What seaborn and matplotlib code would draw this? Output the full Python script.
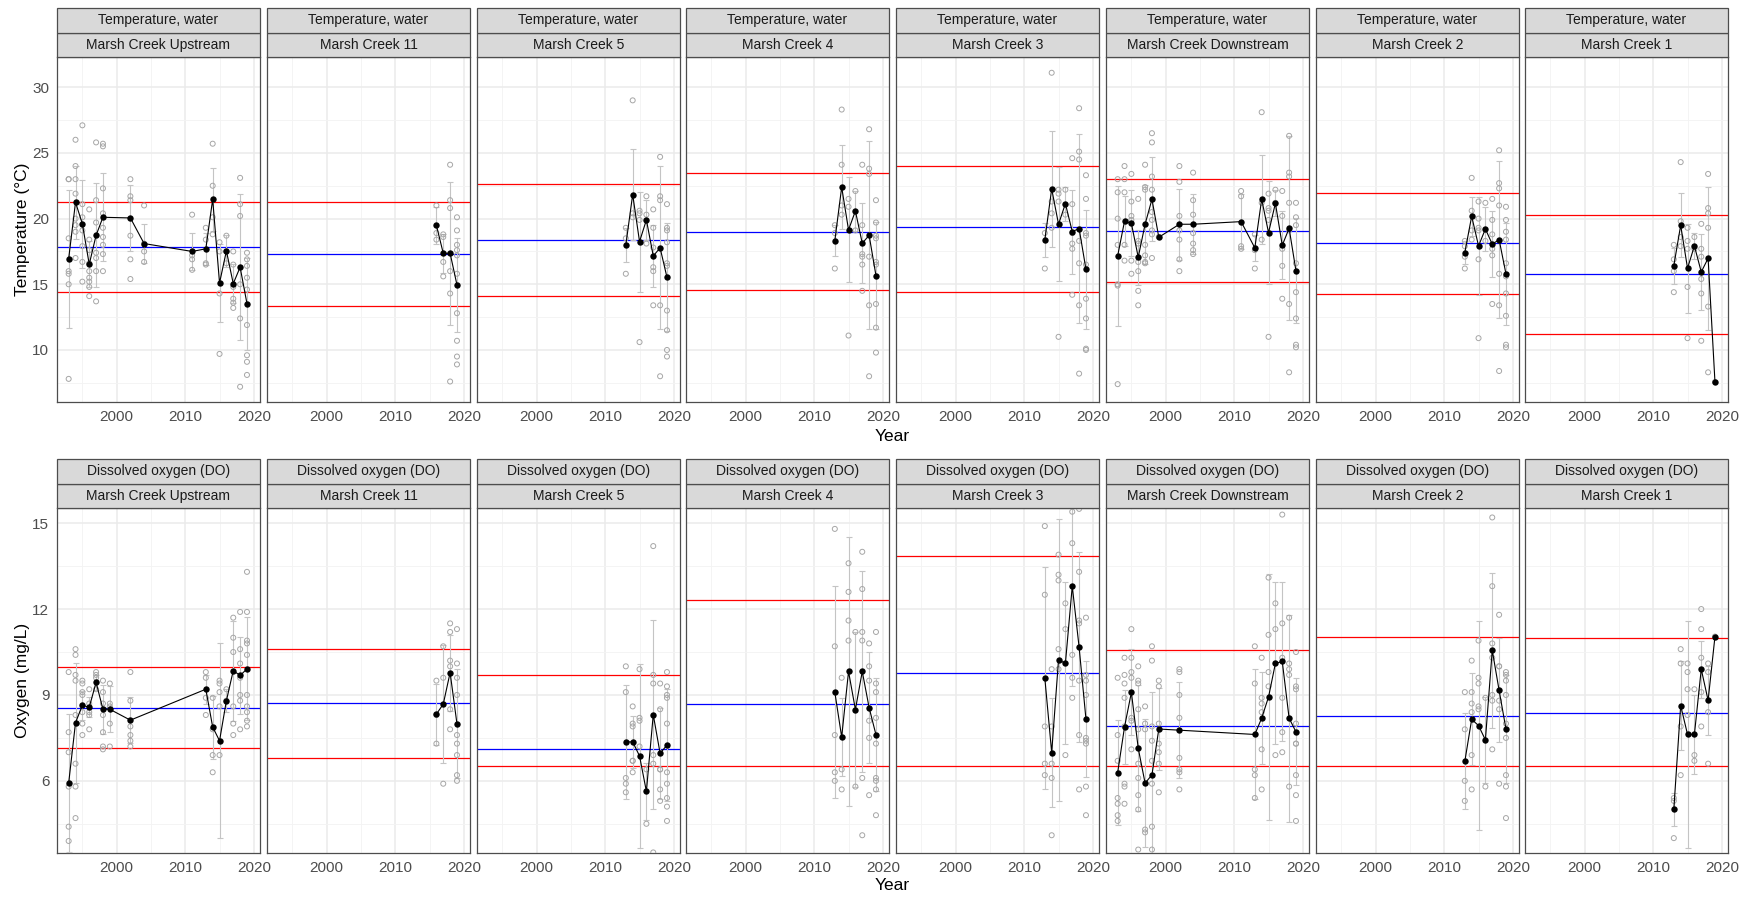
import numpy as np
import pandas as pd
import matplotlib
matplotlib.use("Agg")
import matplotlib.pyplot as plt
from matplotlib.patches import Rectangle
import seaborn as sns

sns.set_style("white")
plt.rcParams["font.family"] = ["Liberation Sans", "DejaVu Sans"]

# ---------------- data ----------------
SITES = ["Marsh Creek Upstream", "Marsh Creek 11", "Marsh Creek 5", "Marsh Creek 4",
         "Marsh Creek 3", "Marsh Creek Downstream", "Marsh Creek 2", "Marsh Creek 1"]
PARAM_TEMP = "Temperature, water"
PARAM_DO = "Dissolved oxygen (DO)"
YLABEL_TEMP = "Temperature (°C)"
YLABEL_DO = "Oxygen (mg/L)"
XLABEL = "Year"
X_TICKS = [2000, 2010, 2020]
TEMP_TICKS = [10, 15, 20, 25, 30]
DO_TICKS = [6, 9, 12, 15]

Y_RECENT = [2013, 2014, 2015, 2016, 2017, 2018, 2019]

# ---- Temperature: yearly mean, sd, raw samples ----
T_UP_YEARS = [1993, 1994, 1995, 1996, 1997, 1998, 2002, 2004, 2011, 2013, 2014, 2015, 2016, 2017, 2018, 2019]
T_UP_MEAN = [16.95, 21.24, 19.6, 16.52, 18.73, 20.1, 20.05, 18.1, 17.5, 17.7, 21.47, 15.1, 17.54, 15.05, 16.3, 13.53]
T_UP_SD = [5.25, 2.8, 3.35, 1.75, 3.95, 3.35, 2.5, 1.5, 1.4, 1.2, 2.4, 3.0, 1.2, 1.5, 5.55, 3.5]
T_UP_RAW = {1993: [23.0, 23.0, 18.5, 16.0, 15.8, 15.0, 7.8],
            1994: [26.0, 24.0, 23.0, 21.9, 20.0, 19.5, 19.0, 17.0],
            1995: [27.1, 21.1, 20.1, 19.1, 17.9, 16.7, 15.2],
            1996: [20.7, 18.4, 17.6, 16.6, 16.0, 15.5, 15.2, 14.8, 14.1],
            1997: [25.8, 21.4, 19.7, 17.4, 17.0, 16.0, 13.7],
            1998: [25.7, 25.5, 22.3, 20.4, 19.3, 18.6, 18.0, 17.3, 16.0],
            2002: [23.0, 21.7, 21.4, 18.7, 16.9, 15.4],
            2004: [21.0, 18.1, 17.5, 16.7],
            2011: [20.3, 17.2, 16.9, 16.1],
            2013: [19.3, 18.4, 16.6, 16.5],
            2014: [25.7, 22.5, 20.1, 18.8],
            2015: [18.2, 17.5, 14.3, 9.7],
            2016: [18.7, 17.5, 16.6],
            2017: [17.5, 16.5, 14.8, 13.9, 13.6, 13.2],
            2018: [23.1, 21.1, 20.2, 15.0, 12.4, 7.2],
            2019: [17.4, 16.9, 16.4, 15.5, 14.6, 11.9, 9.6, 9.1, 8.1]}

T_MC11_YEARS = [2016, 2017, 2018, 2019]
T_MC11_MEAN = [19.49, 17.36, 17.36, 14.95]
T_MC11_SD = [1.42, 1.47, 5.46, 3.6]
T_MC11_RAW = {2016: [21.0, 18.9, 18.4],
              2017: [18.8, 18.6, 16.7, 15.6],
              2018: [24.1, 21.4, 20.8, 16.0, 14.3, 7.6],
              2019: [20.1, 19.1, 18.0, 17.6, 17.2, 15.8, 12.8, 10.7, 9.5, 8.9]}

T_MC5_MEAN = [17.99, 21.83, 18.25, 19.9, 17.16, 17.77, 15.53]
T_MC5_SD = [1.33, 3.45, 3.8, 1.5, 2.35, 6.2, 4.1]
T_MC5_RAW = {2013: [19.3, 18.5, 15.8], 2014: [29.0, 20.4, 20.1], 2015: [20.6, 20.4, 19.9, 10.6],
             2016: [21.7, 20.3, 18.1], 2017: [20.7, 19.3, 17.8, 16.3, 16.0, 13.4],
             2018: [24.7, 21.7, 21.4, 13.4, 8.0],
             2019: [21.1, 19.3, 19.1, 18.2, 16.6, 16.4, 13.0, 11.5, 10.0, 9.5]}

T_MC4_MEAN = [18.32, 22.39, 19.14, 20.58, 18.12, 18.73, 15.66]
T_MC4_SD = [1.2, 3.2, 4.0, 1.5, 3.03, 7.17, 4.1]
T_MC4_RAW = {2013: [19.5, 18.9, 16.2], 2014: [28.3, 24.1, 21.0, 20.3], 2015: [21.5, 20.9, 11.1],
             2016: [22.1, 19.1], 2017: [24.1, 19.5, 17.3, 17.1, 16.5, 14.5],
             2018: [26.8, 23.8, 23.4, 17.1, 13.4, 8.0],
             2019: [21.4, 19.7, 18.7, 18.5, 16.7, 16.5, 13.5, 11.7, 9.8]}

T_MC3_MEAN = [18.38, 22.26, 19.57, 21.14, 19.01, 19.24, 16.14]
T_MC3_SD = [1.3, 4.4, 4.34, 1.3, 3.2, 7.2, 4.55]
T_MC3_RAW = {2013: [18.9, 16.2], 2014: [31.1, 21.3, 20.4, 19.3], 2015: [22.2, 21.9, 21.3, 11.0],
             2016: [22.2, 20.3], 2017: [24.6, 21.1, 18.9, 18.1, 17.7, 14.2],
             2018: [28.4, 25.1, 24.5, 18.3, 16.6, 13.4, 8.2],
             2019: [23.3, 21.5, 18.9, 18.7, 16.5, 13.9, 12.4, 10.1, 10.0]}

T_DOWN_YEARS = [1993, 1994, 1995, 1996, 1997, 1998, 1999, 2002, 2004, 2011, 2013, 2014, 2015, 2016, 2017, 2018, 2019]
T_DOWN_MEAN = [17.16, 19.8, 19.64, 17.06, 19.57, 21.47, 18.58, 19.57, 19.57, 19.77, 17.77, 21.47, 18.93, 21.17, 17.97, 19.26, 16.02]
T_DOWN_SD = [5.3, 1.9, 2.5, 2.1, 3.0, 3.2, np.nan, 2.7, 2.3, 2.1, 1.0, 3.4, 3.9, 1.0, 2.6, 7.0, 4.0]
T_DOWN_RAW = {1993: [23.0, 22.0, 20.0, 18.0, 15.0, 14.9, 7.4],
              1994: [24.0, 23.0, 22.0, 18.0, 16.8],
              1995: [23.4, 21.3, 20.2, 19.9, 16.8, 15.8],
              1996: [21.5, 18.3, 18.1, 16.7, 16.0, 14.5, 13.4],
              1997: [24.1, 22.4, 22.2, 18.0, 17.2, 16.7, 16.6],
              1998: [26.5, 25.8, 23.2, 22.2, 20.5, 19.9, 19.1, 18.8, 17.0],
              1999: [18.6],
              2002: [24.0, 22.8, 20.2, 19.1, 18.4, 16.9, 16.0],
              2004: [23.5, 21.4, 20.3, 18.9, 18.1, 17.6, 17.3],
              2011: [22.1, 21.7, 17.9, 17.7],
              2013: [18.8, 17.6, 16.2],
              2014: [28.1, 21.2, 18.4],
              2015: [21.9, 20.8, 20.6, 19.9, 11.0],
              2016: [22.2, 21.2],
              2017: [22.1, 20.2, 17.7, 16.4, 13.9],
              2018: [26.3, 23.5, 23.2, 21.2, 19.1, 13.5, 8.3],
              2019: [21.2, 20.1, 19.5, 16.6, 14.4, 12.4, 10.4, 10.2]}

T_MC2_MEAN = [17.41, 20.18, 17.92, 19.21, 18.05, 18.4, 15.79]
T_MC2_SD = [0.9, 1.5, 3.7, 1.7, 2.5, 6.0, 3.9]
T_MC2_RAW = {2013: [18.3, 17.9, 17.1, 16.2], 2014: [23.1, 20.6, 19.1, 18.4],
             2015: [21.3, 20.0, 19.3, 19.1, 16.9, 10.9], 2016: [21.2, 18.3],
             2017: [21.5, 19.9, 18.8, 17.7, 17.2, 13.5],
             2018: [25.2, 22.7, 22.3, 21.0, 15.8, 13.4, 8.4],
             2019: [20.9, 19.9, 19.0, 18.4, 16.6, 15.6, 14.3, 12.6, 10.4, 10.2]}

T_MC1_MEAN = [16.42, 19.49, 16.22, 17.92, 15.94, 16.98, 7.56]
T_MC1_SD = [1.37, 2.44, 3.4, 1.0, 2.88, 5.45, np.nan]
T_MC1_RAW = {2013: [18.0, 16.9, 16.0, 14.4], 2014: [24.3, 19.8, 18.6, 17.9],
             2015: [19.3, 18.3, 17.7, 14.8, 10.9], 2016: [18.6, 17.7],
             2017: [19.6, 17.7, 17.1, 15.4, 14.3, 10.7],
             2018: [23.4, 20.8, 20.4, 19.3, 13.3, 8.3], 2019: [7.56]}

# reference lines per site (lower red, blue average, upper red)
T_LOW = [14.39, 13.32, 14.09, 14.54, 14.39, 15.2, 14.26, 11.19]
T_AVG = [17.84, 17.28, 18.35, 19.01, 19.34, 19.09, 18.12, 15.79]
T_HIGH = [21.24, 21.24, 22.64, 23.45, 24.01, 23.0, 21.95, 20.3]

# ---- Dissolved oxygen ----
DO_UP_YEARS = [1993, 1994, 1995, 1996, 1997, 1998, 1999, 2002, 2013, 2014, 2015, 2016, 2017, 2018, 2019]
DO_UP_MEAN = [5.92, 8.03, 8.64, 8.57, 9.44, 8.5, 8.5, 8.12, 9.2, 7.88, 7.4, 8.8, 9.85, 9.68, 9.91]
DO_UP_SD = [2.4, 2.1, 0.5, 0.35, 0.25, 0.85, 0.8, 0.8, 0.5, 1.1, 3.4, 0.4, 1.75, 1.35, 1.8]
DO_UP_RAW = {1993: [9.8, 7.7, 7.0, 5.8, 4.4, 3.9],
             1994: [10.6, 10.4, 9.7, 9.5, 8.3, 6.6, 5.8, 4.7],
             1995: [9.5, 9.4, 9.1, 9.0, 8.4, 8.0, 7.6],
             1996: [9.2, 8.7, 8.4, 8.3, 7.8],
             1997: [9.8, 9.7, 9.6, 9.2],
             1998: [9.5, 9.1, 8.7, 8.3, 7.7, 7.2, 7.1],
             1999: [9.4, 8.7, 8.6, 8.0, 7.2],
             2002: [9.8, 8.8, 7.9, 7.6, 7.4, 7.2],
             2013: [9.8, 9.6, 8.9, 8.3],
             2014: [8.9, 7.8, 6.9, 6.3],
             2015: [9.5, 9.4, 9.1, 8.6, 6.9],
             2016: [9.2, 8.8],
             2017: [11.7, 11.0, 10.5, 8.6, 8.0, 7.6],
             2018: [11.9, 10.6, 10.1, 9.6, 9.0, 8.8, 7.8],
             2019: [13.3, 11.9, 10.9, 10.8, 10.4, 9.0, 8.6, 8.4, 8.1, 7.9]}

DO_MC11_YEARS = [2016, 2017, 2018, 2019]
DO_MC11_MEAN = [8.33, 8.68, 9.78, 7.99]
DO_MC11_SD = [1.07, 2.05, 1.33, 1.9]
DO_MC11_RAW = {2016: [9.5, 8.3, 7.3], 2017: [10.7, 9.6, 5.9],
               2018: [11.5, 11.2, 10.2, 10.0, 8.5, 7.8],
               2019: [11.3, 10.1, 9.6, 9.0, 7.6, 7.3, 6.9, 6.2, 6.0]}

DO_MC5_MEAN = [7.36, 7.36, 6.87, 5.63, 8.31, 6.96, 7.25]
DO_MC5_SD = [2.0, 0.9, 3.2, 1.0, 3.3, 1.6, 1.97]
DO_MC5_RAW = {2013: [10.0, 9.1, 6.1, 5.9, 5.6], 2014: [8.6, 8.0, 7.9, 6.7, 6.7, 6.3],
              2015: [9.9, 8.2, 8.1, 7.2], 2016: [6.4, 4.5], 2017: [14.2, 9.7, 9.4, 6.9, 6.6, 3.5],
              2018: [9.4, 8.5, 6.4, 6.4, 5.7, 5.3],
              2019: [9.8, 9.3, 9.0, 8.9, 8.0, 6.3, 5.9, 5.4, 5.1, 4.6]}

DO_MC4_MEAN = [9.1, 7.53, 9.82, 8.49, 9.82, 8.56, 7.61]
DO_MC4_SD = [3.7, 1.37, 4.7, 2.7, 3.5, 1.95, 1.97]
DO_MC4_RAW = {2013: [14.8, 10.7, 7.6, 6.3, 6.0], 2014: [9.6, 6.4, 5.7], 2015: [13.6, 12.6, 11.6, 10.9],
              2016: [11.2, 5.8], 2017: [14.0, 12.7, 11.2, 10.9, 6.1, 4.1],
              2018: [10.8, 10.0, 9.5, 8.1, 7.5, 5.5],
              2019: [11.2, 9.4, 9.1, 8.2, 7.3, 6.1, 6.0, 5.7, 4.8]}

DO_MC3_MEAN = [9.59, 6.99, 10.23, 10.1, 12.8, 10.67, 8.15]
DO_MC3_SD = [3.88, 1.9, 4.92, 2.83, 3.47, 3.32, 2.03]
DO_MC3_RAW = {2013: [14.9, 12.5, 7.9, 6.6, 6.2], 2014: [9.9, 7.9, 6.6, 6.1, 4.1],
              2015: [13.9, 13.2, 13.0, 10.6, 9.9], 2016: [12.2, 11.3, 6.9],
              2017: [15.4, 14.3, 10.4, 9.6, 8.9], 2018: [15.5, 13.3, 11.6, 11.5, 9.5, 7.6, 5.7],
              2019: [11.7, 9.7, 9.5, 9.0, 7.5, 7.4, 7.3, 5.8, 4.8]}

DO_DOWN_YEARS = [1993, 1994, 1995, 1996, 1997, 1998, 1999, 2002, 2013, 2014, 2015, 2016, 2017, 2018, 2019]
DO_DOWN_MEAN = [6.29, 7.88, 9.09, 7.14, 5.92, 6.21, 7.81, 7.77, 7.62, 8.19, 8.93, 10.1, 10.17, 8.19, 7.71]
DO_DOWN_SD = [1.82, 1.3, 1.5, 2.2, 2.24, 2.9, 1.42, 1.68, 2.27, 1.6, 4.3, 2.83, 2.78, 3.62, 1.87]
DO_DOWN_RAW = {1993: [9.6, 7.6, 6.7, 5.4, 5.2, 4.8, 4.6],
               1994: [10.3, 9.7, 9.4, 8.9, 7.9, 5.9, 5.8, 5.2],
               1995: [11.3, 10.3, 9.8, 9.6, 8.2, 8.1, 7.1],
               1996: [10.0, 9.5, 9.4, 8.5, 7.8, 6.6, 6.1, 5.5, 5.0, 3.6],
               1997: [8.6, 8.0, 7.8, 4.3, 4.2],
               1998: [10.7, 10.2, 7.9, 7.4, 6.7, 5.9, 4.4, 3.6],
               1999: [9.5, 9.3, 8.0, 7.3, 7.0, 6.6, 5.6],
               2002: [9.9, 9.8, 9.0, 8.2, 6.8, 6.4, 6.3, 5.7],
               2013: [10.7, 9.4, 6.4, 6.2, 5.4],
               2014: [10.3, 8.9, 8.7, 8.4, 7.1, 5.7],
               2015: [13.1, 11.1, 9.8, 9.3],
               2016: [12.2, 11.3, 6.9],
               2017: [15.3, 11.5, 10.3, 8.9, 7.7, 7.0],
               2018: [11.7, 10.1, 9.9, 9.7, 5.8],
               2019: [10.5, 9.3, 9.2, 8.0, 7.3, 7.3, 6.2, 5.5, 4.6]}

DO_MC2_MEAN = [6.68, 8.15, 7.93, 7.43, 10.56, 9.16, 7.81]
DO_MC2_SD = [1.68, 1.6, 3.66, 1.5, 2.7, 1.82, 1.9]
DO_MC2_RAW = {2013: [9.1, 7.8, 6.0, 5.3], 2014: [10.2, 9.1, 8.7, 8.4, 6.9, 5.7],
              2015: [10.9, 9.6, 9.4, 8.6, 8.5], 2016: [8.9, 5.8],
              2017: [15.2, 12.8, 10.8, 10.3, 9.0, 8.8, 7.1],
              2018: [11.8, 10.0, 10.0, 8.8, 8.5, 5.9],
              2019: [9.8, 9.7, 9.5, 9.0, 8.0, 7.5, 6.2, 5.8, 4.7]}

DO_MC1_MEAN = [5.01, 8.63, 7.62, 7.62, 9.9, 8.81, 11.04]
DO_MC1_SD = [0.57, 1.55, 3.95, 1.38, 1.0, 1.2, np.nan]
DO_MC1_RAW = {2013: [5.4, 5.3, 4.0], 2014: [10.6, 10.1, 7.9, 6.2], 2015: [10.1, 9.8, 9.2, 8.3],
              2016: [9.2, 6.9, 6.7], 2017: [12.0, 11.3, 10.3, 9.1, 7.9],
              2018: [10.1, 9.8, 8.4, 6.6], 2019: [11.04]}

DO_LOW = [7.14, 6.79, 6.51, 6.51, 6.51, 6.51, 6.51, 6.51]
DO_AVG = [8.56, 8.71, 7.11, 8.68, 9.78, 7.92, 8.25, 8.36]
DO_HIGH = [9.99, 10.62, 9.69, 12.32, 13.86, 10.56, 11.04, 11.0]

# ---------------- assemble per-panel tables ----------------
TEMP_PANELS = [
    (T_UP_YEARS, T_UP_MEAN, T_UP_SD, T_UP_RAW),
    (T_MC11_YEARS, T_MC11_MEAN, T_MC11_SD, T_MC11_RAW),
    (Y_RECENT, T_MC5_MEAN, T_MC5_SD, T_MC5_RAW),
    (Y_RECENT, T_MC4_MEAN, T_MC4_SD, T_MC4_RAW),
    (Y_RECENT, T_MC3_MEAN, T_MC3_SD, T_MC3_RAW),
    (T_DOWN_YEARS, T_DOWN_MEAN, T_DOWN_SD, T_DOWN_RAW),
    (Y_RECENT, T_MC2_MEAN, T_MC2_SD, T_MC2_RAW),
    (Y_RECENT, T_MC1_MEAN, T_MC1_SD, T_MC1_RAW),
]
DO_PANELS = [
    (DO_UP_YEARS, DO_UP_MEAN, DO_UP_SD, DO_UP_RAW),
    (DO_MC11_YEARS, DO_MC11_MEAN, DO_MC11_SD, DO_MC11_RAW),
    (Y_RECENT, DO_MC5_MEAN, DO_MC5_SD, DO_MC5_RAW),
    (Y_RECENT, DO_MC4_MEAN, DO_MC4_SD, DO_MC4_RAW),
    (Y_RECENT, DO_MC3_MEAN, DO_MC3_SD, DO_MC3_RAW),
    (DO_DOWN_YEARS, DO_DOWN_MEAN, DO_DOWN_SD, DO_DOWN_RAW),
    (Y_RECENT, DO_MC2_MEAN, DO_MC2_SD, DO_MC2_RAW),
    (Y_RECENT, DO_MC1_MEAN, DO_MC1_SD, DO_MC1_RAW),
]


def raw_frame(raw):
    rows = [(yr, v) for yr, vals in raw.items() for v in vals]
    return pd.DataFrame(rows, columns=["year", "value"])


# ---------------- layout (pixels) ----------------
W, H = 1747, 898
PANEL_LEFT = [57, 267, 477, 686, 896, 1106, 1316, 1525]
PANEL_W = 203
ROWS = [
    dict(top=57, bottom=402, panels=TEMP_PANELS, low=T_LOW, avg=T_AVG, high=T_HIGH,
         ylim=(6.04, 32.3), ticks=TEMP_TICKS, minor=[7.5, 12.5, 17.5, 22.5, 27.5],
         param=PARAM_TEMP, ylabel=YLABEL_TEMP, xlab_y=436),
    dict(top=508, bottom=853, panels=DO_PANELS, low=DO_LOW, avg=DO_AVG, high=DO_HIGH,
         ylim=(3.48, 15.53), ticks=DO_TICKS, minor=[4.5, 7.5, 10.5, 13.5],
         param=PARAM_DO, ylabel=YLABEL_DO, xlab_y=886),
]
STRIP_H = 24.5

fig = plt.figure(figsize=(W / 100, H / 100), dpi=100)
fig.patch.set_facecolor("white")

for row in ROWS:
    ph = row["bottom"] - row["top"]
    for i, site in enumerate(SITES):
        ax = fig.add_axes([PANEL_LEFT[i] / W, 1 - row["bottom"] / H, PANEL_W / W, ph / H])
        years, means, sds, raw = row["panels"][i]
        ax.set_facecolor("white")
        ax.set_axisbelow(True)

        ax.axhline(row["high"][i], color="#FF0000", lw=0.9, zorder=2)
        ax.axhline(row["low"][i], color="#FF0000", lw=0.9, zorder=2)
        ax.axhline(row["avg"][i], color="#0000FF", lw=0.9, zorder=2)

        ax.errorbar(years, means, yerr=np.array(sds, dtype=float), fmt="none",
                    ecolor="#C4C4C4", elinewidth=0.8, capsize=2.5, capthick=0.8, zorder=3)

        sns.scatterplot(data=raw_frame(raw), x="year", y="value", ax=ax, marker="o",
                        facecolor="none", edgecolor="#A6A6A6", s=13, linewidth=0.7, zorder=4)

        mdf = pd.DataFrame({"year": years, "mean": means})
        sns.lineplot(data=mdf, x="year", y="mean", ax=ax, color="black", lw=0.8,
                     marker="o", markersize=4.6, markeredgewidth=0, estimator=None,
                     zorder=5)

        ax.set_xlim(1991.3, 2020.9)
        ax.set_ylim(*row["ylim"])
        ax.set_xticks(X_TICKS)
        ax.set_xticks([1995, 2005, 2015], minor=True)
        ax.set_yticks(row["ticks"])
        ax.set_yticks(row["minor"], minor=True)
        ax.grid(which="major", color="#EBEBEB", lw=1.1)
        ax.grid(which="minor", color="#F3F3F3", lw=0.6)
        ax.tick_params(which="major", direction="out", length=3.5, width=0.8,
                       color="#333333", labelcolor="#4D4D4D", labelsize=11, pad=2)
        ax.tick_params(which="minor", length=0)
        if i > 0:
            ax.tick_params(axis="y", labelleft=False, length=0)
        ax.set_xlabel("")
        ax.set_ylabel("")
        for sp in ax.spines.values():
            sp.set_color("#4D4D4D")
            sp.set_linewidth(0.9)

        # facet strips
        sh = STRIP_H / ph
        for k, label in enumerate([site, row["param"]]):
            y0 = 1 + k * sh
            ax.add_patch(Rectangle((0, y0), 1, sh, transform=ax.transAxes, clip_on=False,
                                   facecolor="#D9D9D9", edgecolor="#4D4D4D", lw=0.9, zorder=10))
            ax.text(0.5, y0 + sh / 2, label, transform=ax.transAxes, ha="center", va="center",
                    fontsize=10, color="#1A1A1A", zorder=11)

    fig.text(23 / W, 1 - (row["top"] + row["bottom"]) / 2 / H, row["ylabel"], rotation=90,
             ha="center", va="center", fontsize=12.5, color="black")
    fig.text((PANEL_LEFT[0] + PANEL_LEFT[-1] + PANEL_W) / 2 / W, 1 - row["xlab_y"] / H, XLABEL,
             ha="center", va="center", fontsize=12.5, color="black")

fig.savefig("out.png", dpi=100, facecolor="white")
